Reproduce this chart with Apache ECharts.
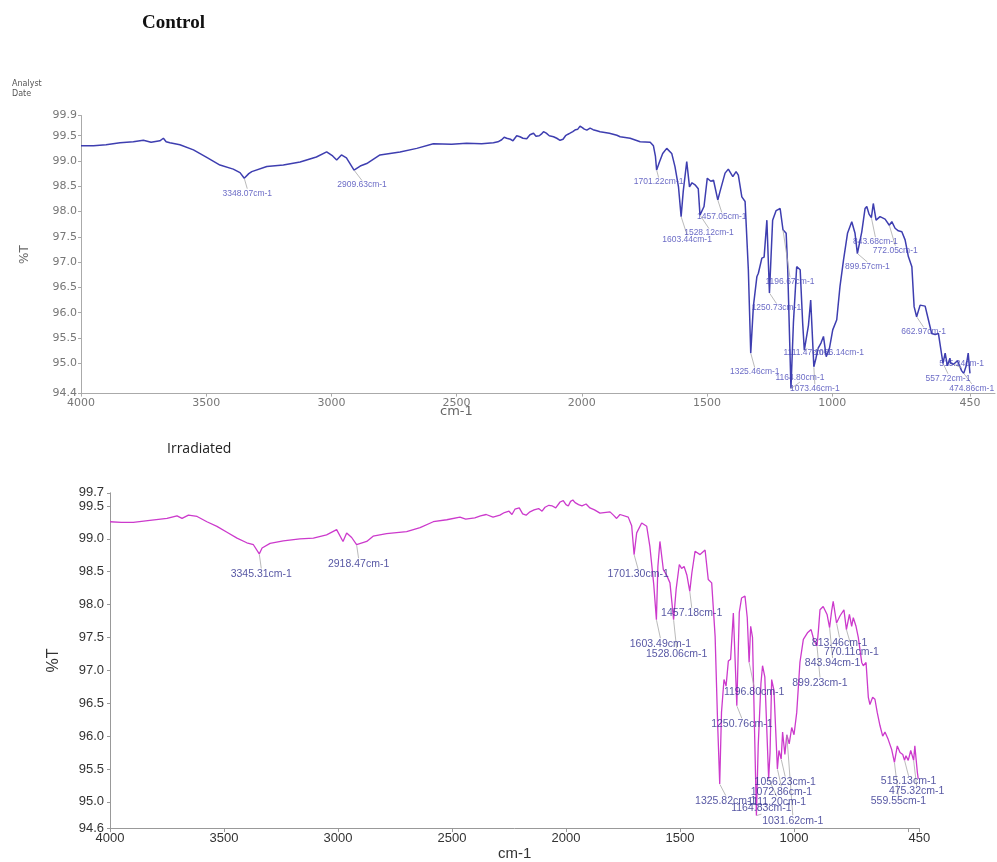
<!DOCTYPE html>
<html>
<head>
<meta charset="utf-8">
<script src="https://cdn.jsdelivr.net/npm/echarts@6/dist/echarts.min.js"></script>
<style>
  html, body { margin: 0; padding: 0; background: #fff; }
  #base, #upper { position: absolute; left: 0; top: 0; width: 997px; height: 862px; }
  #upper { filter: blur(0.5px); }
</style>
</head>
<body>
<div id="base"></div>
<div id="upper"></div>
<script>
// ---- Control spectrum (wavenumber in cm-1, transmittance in %T) ----
const controlWn = [4000, 3950, 3900, 3844, 3791, 3751, 3720, 3685, 3671, 3660, 3645, 3605, 3551, 3498, 3445, 3392, 3365, 3348.07, 3330, 3318, 3258, 3192, 3125, 3060, 3019, 2995, 2979, 2960, 2940, 2909.63, 2885, 2859, 2806, 2726, 2659, 2593, 2520, 2460, 2400,
  2353, 2335, 2320, 2310, 2300, 2285, 2275, 2260, 2247, 2235, 2220, 2207, 2193, 2183, 2170, 2162, 2153, 2142, 2130, 2113, 2100, 2087, 2075, 2065, 2055, 2047, 2036, 2025, 2016, 2007, 1998, 1990, 1980, 1967, 1955, 1940, 1927,
  1890, 1860, 1847, 1807, 1767, 1727, 1714, 1706, 1701.22, 1690, 1677, 1661, 1641, 1628, 1614, 1603.44, 1595, 1581, 1570, 1560, 1548, 1535, 1528.12, 1512, 1499, 1485, 1474, 1457.05, 1448, 1428, 1415, 1397, 1384, 1375, 1361, 1348, 1335, 1325.46, 1315, 1301, 1295, 1281, 1272, 1261, 1250.73, 1238, 1224, 1208, 1196.67, 1184, 1178, 1164.80, 1155, 1142, 1128, 1118, 1111.47, 1095, 1086, 1073.46, 1065, 1056.14, 1045, 1035, 1024, 1011, 998, 982, 969, 955, 939, 922, 909, 899.57, 882, 869, 862, 853, 843.68, 836, 825, 809, 789, 772.05, 762, 749, 736, 722, 709, 696, 682, 673, 662.97, 649, 629, 616, 603, 589, 576, 557.72, 549, 540, 530, 527, 515.24, 500, 483, 474.86, 465, 457, 450];
const controlT = [99.30, 99.30, 99.32, 99.36, 99.38, 99.41, 99.37, 99.40, 99.45, 99.38, 99.36, 99.32, 99.22, 99.07, 98.92, 98.84, 98.77, 98.66, 98.75, 98.79, 98.89, 98.92, 98.98, 99.08, 99.18, 99.10, 99.02, 99.12, 99.06, 98.82, 98.90, 98.95, 99.12, 99.18, 99.25, 99.34, 99.33, 99.35, 99.34,
  99.36, 99.38, 99.42, 99.47, 99.45, 99.43, 99.40, 99.50, 99.48, 99.45, 99.44, 99.52, 99.55, 99.49, 99.50, 99.53, 99.58, 99.55, 99.50, 99.48, 99.45, 99.41, 99.43, 99.50, 99.53, 99.55, 99.58, 99.62, 99.63, 99.69, 99.66, 99.63, 99.61, 99.65, 99.62, 99.60, 99.58,
  99.55, 99.51, 99.48, 99.45, 99.38, 99.37, 99.30, 99.09, 98.82, 98.98, 99.15, 99.25, 99.15, 98.89, 98.49, 97.90, 98.40, 98.99, 98.49, 98.57, 98.53, 98.45, 97.93, 98.10, 98.66, 98.60, 98.62, 98.23, 98.40, 98.76, 98.84, 98.69, 98.79, 98.72, 98.29, 98.20, 96.85, 95.20, 96.12, 96.71, 96.78, 97.08, 97.10, 97.83, 96.39, 97.83, 98.02, 98.06, 97.64, 97.57, 96.90, 94.50, 95.80, 96.91, 96.85, 95.79, 95.26, 95.75, 96.25, 94.93, 95.10, 95.30, 95.40, 95.53, 95.13, 95.30, 95.66, 95.86, 96.52, 97.04, 97.57, 97.80, 97.57, 97.17, 97.60, 98.06, 98.10, 97.95, 97.88, 98.16, 97.83, 97.90, 97.85, 97.73, 97.80, 97.67, 97.62, 97.60, 97.44, 97.11, 96.91, 96.12, 95.92, 96.15, 96.13, 95.86, 95.59, 95.57, 95.59, 95.00, 95.20, 94.95, 95.10, 95.00, 94.98, 95.05, 94.85, 94.80, 94.95, 95.20, 94.80];
const controlPeaks = [3348.07, 2909.63, 1701.22, 1603.44, 1528.12, 1457.05, 1325.46, 1250.73, 1196.67, 1164.80, 1111.47, 1073.46, 1056.14, 899.57, 843.68, 772.05, 662.97, 557.72, 515.24, 474.86];

// ---- Irradiated spectrum ----
const irradiatedWn = [4000, 3950, 3898, 3825, 3750, 3706, 3684, 3656, 3618, 3575, 3531, 3487, 3443, 3400, 3371, 3345.31, 3333, 3298, 3240, 3167, 3108, 3050, 3006, 2978, 2962, 2940, 2918.47, 2874, 2846, 2787, 2699, 2640, 2582,
  2523, 2465, 2440, 2400, 2375, 2350, 2320, 2290, 2270, 2250, 2237, 2224, 2205, 2190, 2175, 2158, 2140, 2120, 2105, 2092, 2075, 2060, 2045, 2026, 2012, 2000, 1990, 1980, 1970, 1960, 1945, 1930, 1912, 1895, 1875, 1851,
  1807, 1792, 1778, 1763, 1727, 1712, 1701.30, 1690, 1668, 1646, 1632, 1615, 1603.49, 1597, 1588, 1573, 1559, 1544, 1528.06, 1517, 1503, 1493, 1482, 1470, 1457.18, 1448, 1434, 1412, 1390, 1376, 1361, 1346, 1335, 1325.82, 1318, 1307, 1298, 1288, 1278, 1266, 1250.76, 1240, 1230, 1215, 1205, 1196.80, 1190, 1182, 1164.83, 1157, 1145, 1138, 1128, 1111.20, 1105, 1098, 1088, 1072.86, 1066, 1056.23, 1050, 1040, 1031.62, 1021, 1010, 1000, 988, 974, 959, 941, 925, 912, 899.23, 893, 886, 872, 855, 843.94, 835, 828, 813.46, 798, 781, 770.11, 757, 747, 740, 728, 718, 703, 696, 684, 674, 667, 655, 645, 635, 623, 611, 601, 587, 572, 559.55, 547, 535, 523, 515.13, 509, 499, 488, 475.32, 470, 459, 455];
const irradiatedT = [99.26, 99.25, 99.25, 99.28, 99.31, 99.35, 99.31, 99.36, 99.34, 99.26, 99.19, 99.10, 99.01, 98.94, 98.91, 98.77, 98.86, 98.93, 98.97, 99.00, 99.01, 99.06, 99.14, 98.96, 99.09, 99.02, 98.91, 98.96, 99.04, 99.08, 99.11, 99.17, 99.26,
  99.29, 99.33, 99.30, 99.32, 99.35, 99.37, 99.33, 99.36, 99.40, 99.42, 99.37, 99.45, 99.47, 99.38, 99.36, 99.41, 99.44, 99.46, 99.42, 99.48, 99.51, 99.50, 99.47, 99.56, 99.58, 99.52, 99.50, 99.57, 99.59, 99.55, 99.52, 99.50, 99.53, 99.47, 99.44, 99.39,
  99.41, 99.36, 99.31, 99.37, 99.33, 99.20, 98.76, 99.09, 99.24, 99.19, 98.88, 98.30, 97.77, 98.58, 98.96, 98.53, 98.45, 98.33, 97.77, 98.23, 98.61, 98.55, 98.58, 98.45, 98.20, 98.48, 98.81, 98.76, 98.83, 98.38, 98.33, 97.52, 96.20, 95.27, 96.36, 96.86, 96.76, 97.14, 97.17, 97.87, 96.46, 97.88, 98.10, 98.13, 97.80, 97.12, 97.67, 97.50, 94.79, 95.85, 96.80, 97.07, 96.90, 95.35, 95.75, 96.86, 96.70, 95.50, 95.78, 95.65, 96.06, 95.72, 96.02, 95.88, 96.13, 96.02, 96.36, 97.12, 97.47, 97.57, 97.62, 97.45, 97.37, 97.60, 97.92, 97.97, 97.85, 97.65, 97.90, 98.05, 97.72, 97.83, 97.92, 97.62, 97.85, 97.67, 97.80, 97.67, 97.50, 97.12, 97.07, 97.12, 96.59, 96.48, 96.59, 96.56, 96.36, 96.16, 96.00, 96.06, 95.95, 95.80, 95.60, 95.85, 95.75, 95.72, 95.63, 95.70, 95.63, 95.78, 95.63, 95.85, 95.45, 95.35];
const irradiatedPeaks = [3345.31, 2918.47, 1701.30, 1603.49, 1528.06, 1457.18, 1325.82, 1250.76, 1196.80, 1164.83, 1111.20, 1072.86, 1056.23, 1031.62, 899.23, 843.94, 813.46, 770.11, 559.55, 515.13, 475.32];

// ---- Axis tick values ----
const xTickLabels = [4000, 3500, 3000, 2500, 2000, 1500, 1000, 450];
const xTickMarks = [4000, 3500, 3000, 2500, 2000, 1500, 1000, 500, 450];
const controlYTicks = [94.4, 95.0, 95.5, 96.0, 96.5, 97.0, 97.5, 98.0, 98.5, 99.0, 99.5, 99.9];
const irradiatedYTicks = [94.6, 95.0, 95.5, 96.0, 96.5, 97.0, 97.5, 98.0, 98.5, 99.0, 99.5, 99.7];

// Peak-label placement: offset of each label centre from its band (px)
const controlLabelShift = [[3, 15], [8, 15], [2, 12], [6, 23], [9, 18], [4, 17], [4, 19], [7, 15], [7, 52], [9, -11], [3, 3], [1, 22], [21, 5], [10, 13], [4, 24], [6, 25], [7, 15], [5, 15], [8, -1], [8, 15]];
const irradiatedLabelShift = [[2, 20], [2, 19], [4, 20], [4, 24], [3, 34], [2, 22], [6, 17], [5, 18], [5, 30], [5, -7], [8, 23], [4, 23], [4, 23], [6, 86], [3, 37], [3, 36], [3, 20], [5, 23], [4, 39], [4, 21], [3, 31]];

const pairs = (wn, t) => wn.map((w, i) => [w, t[i]]);
const peakPoints = (peaks, wn, t) => peaks.map(p => [p, t[wn.indexOf(p)]]);
const fmtPeak = p => p.value[0].toFixed(2) + 'cm-1';
const plainNumber = v => String(v);

function spectrumSeries(wn, t, color, width) {
  return {
    type: 'line', data: pairs(wn, t), showSymbol: false, symbol: 'none',
    lineStyle: { color: color, width: width }, silent: true, z: 2
  };
}
function peakSeries(peaks, wn, t, shift, font) {
  return {
    type: 'scatter', data: peakPoints(peaks, wn, t), symbolSize: 1,
    itemStyle: { color: 'rgba(0,0,0,0)' }, silent: true, z: 3,
    label: { show: true, position: 'inside', formatter: fmtPeak, ...font },
    labelLine: { show: true, lineStyle: { color: '#a8a8a8', width: 0.8 } },
    labelLayout: p => ({ dx: shift[p.dataIndex][0], dy: shift[p.dataIndex][1] })
  };
}

// ---- Base layer: titles and the irradiated spectrum ----
const base = echarts.init(document.getElementById('base'), null, { renderer: 'canvas' });
base.setOption({
  animation: false,
  backgroundColor: '#fff',
  title: [
    { text: 'Control', left: 142, top: 14, padding: 0,
      textStyle: { fontFamily: 'Liberation Serif', fontWeight: 'bold', fontSize: 19, color: '#111' } },
    { text: 'Irradiated', left: 167, top: 442, padding: 0,
      textStyle: { fontFamily: 'Open Sans', fontWeight: 'normal', fontSize: 14, color: '#222' } }
  ],
  grid: { left: 110, right: 77.6, top: 492.8, bottom: 32.6 },
  xAxis: {
    type: 'value', min: 450, max: 4000, inverse: true,
    name: 'cm-1', nameLocation: 'middle', nameGap: 16,
    nameTextStyle: { fontFamily: 'Liberation Sans', fontSize: 15, color: '#333' },
    axisLine: { lineStyle: { color: '#999' } },
    axisTick: { show: true, customValues: xTickMarks, length: 4, lineStyle: { color: '#999' } },
    axisLabel: { customValues: xTickLabels, formatter: plainNumber, margin: 4,
      fontFamily: 'Liberation Sans', fontSize: 13, color: '#333' },
    splitLine: { show: false }
  },
  yAxis: {
    type: 'value', min: 94.6, max: 99.7,
    name: '%T', nameLocation: 'middle', nameGap: 48, nameRotate: 90,
    nameTextStyle: { fontFamily: 'Liberation Sans', fontSize: 16, color: '#333' },
    axisLine: { show: true, lineStyle: { color: '#999' } },
    axisTick: { show: true, customValues: irradiatedYTicks, length: 3, lineStyle: { color: '#999' } },
    axisLabel: { customValues: irradiatedYTicks, formatter: v => v.toFixed(1), margin: 6,
      fontFamily: 'Liberation Sans', fontSize: 13, color: '#333' },
    splitLine: { show: false }
  },
  series: [
    spectrumSeries(irradiatedWn, irradiatedT, '#cc3acc', 1.3),
    peakSeries(irradiatedPeaks, irradiatedWn, irradiatedT, irradiatedLabelShift,
      { fontFamily: 'Liberation Sans', fontSize: 10.5, color: '#2c2c8c' })
  ]
});

// ---- Upper layer: the control spectrum ----
const upper = echarts.init(document.getElementById('upper'), null, { renderer: 'canvas' });
upper.setOption({
  animation: false,
  title: [
    { text: 'Analyst', left: 12, top: 80, padding: 0,
      textStyle: { fontFamily: 'DejaVu Sans', fontWeight: 'normal', fontSize: 8, color: '#555' } },
    { text: 'Date', left: 12, top: 90, padding: 0,
      textStyle: { fontFamily: 'DejaVu Sans', fontWeight: 'normal', fontSize: 8, color: '#555' } },
    { text: 'cm-1', left: 440, top: 405, padding: 0,
      textStyle: { fontFamily: 'DejaVu Sans', fontWeight: 'normal', fontSize: 13, color: '#666' } }
  ],
  grid: { left: 81, right: 2, top: 115.5, bottom: 468.4 },
  xAxis: {
    type: 'value', min: 350, max: 4000, inverse: true,
    axisLine: { lineStyle: { color: '#aaa' } },
    axisTick: { show: true, customValues: xTickLabels, length: 3, lineStyle: { color: '#aaa' } },
    axisLabel: { customValues: xTickLabels, formatter: plainNumber, margin: 4,
      fontFamily: 'DejaVu Sans', fontSize: 11, color: '#777' },
    splitLine: { show: false }
  },
  yAxis: {
    type: 'value', min: 94.4, max: 99.9,
    name: '%T', nameLocation: 'middle', nameGap: 50, nameRotate: 90,
    nameTextStyle: { fontFamily: 'DejaVu Sans', fontSize: 12, color: '#666' },
    axisLine: { show: true, lineStyle: { color: '#aaa' } },
    axisTick: { show: true, customValues: controlYTicks, length: 3, lineStyle: { color: '#aaa' } },
    axisLabel: { customValues: controlYTicks, formatter: v => v.toFixed(1), margin: 4,
      fontFamily: 'DejaVu Sans', fontSize: 11, color: '#777' },
    splitLine: { show: false }
  },
  series: [
    spectrumSeries(controlWn, controlT, '#3e3eb0', 1.5),
    peakSeries(controlPeaks, controlWn, controlT, controlLabelShift,
      { fontFamily: 'Liberation Sans', fontSize: 8.5, color: '#4646b8' })
  ]
});
</script>
</body>
</html>
